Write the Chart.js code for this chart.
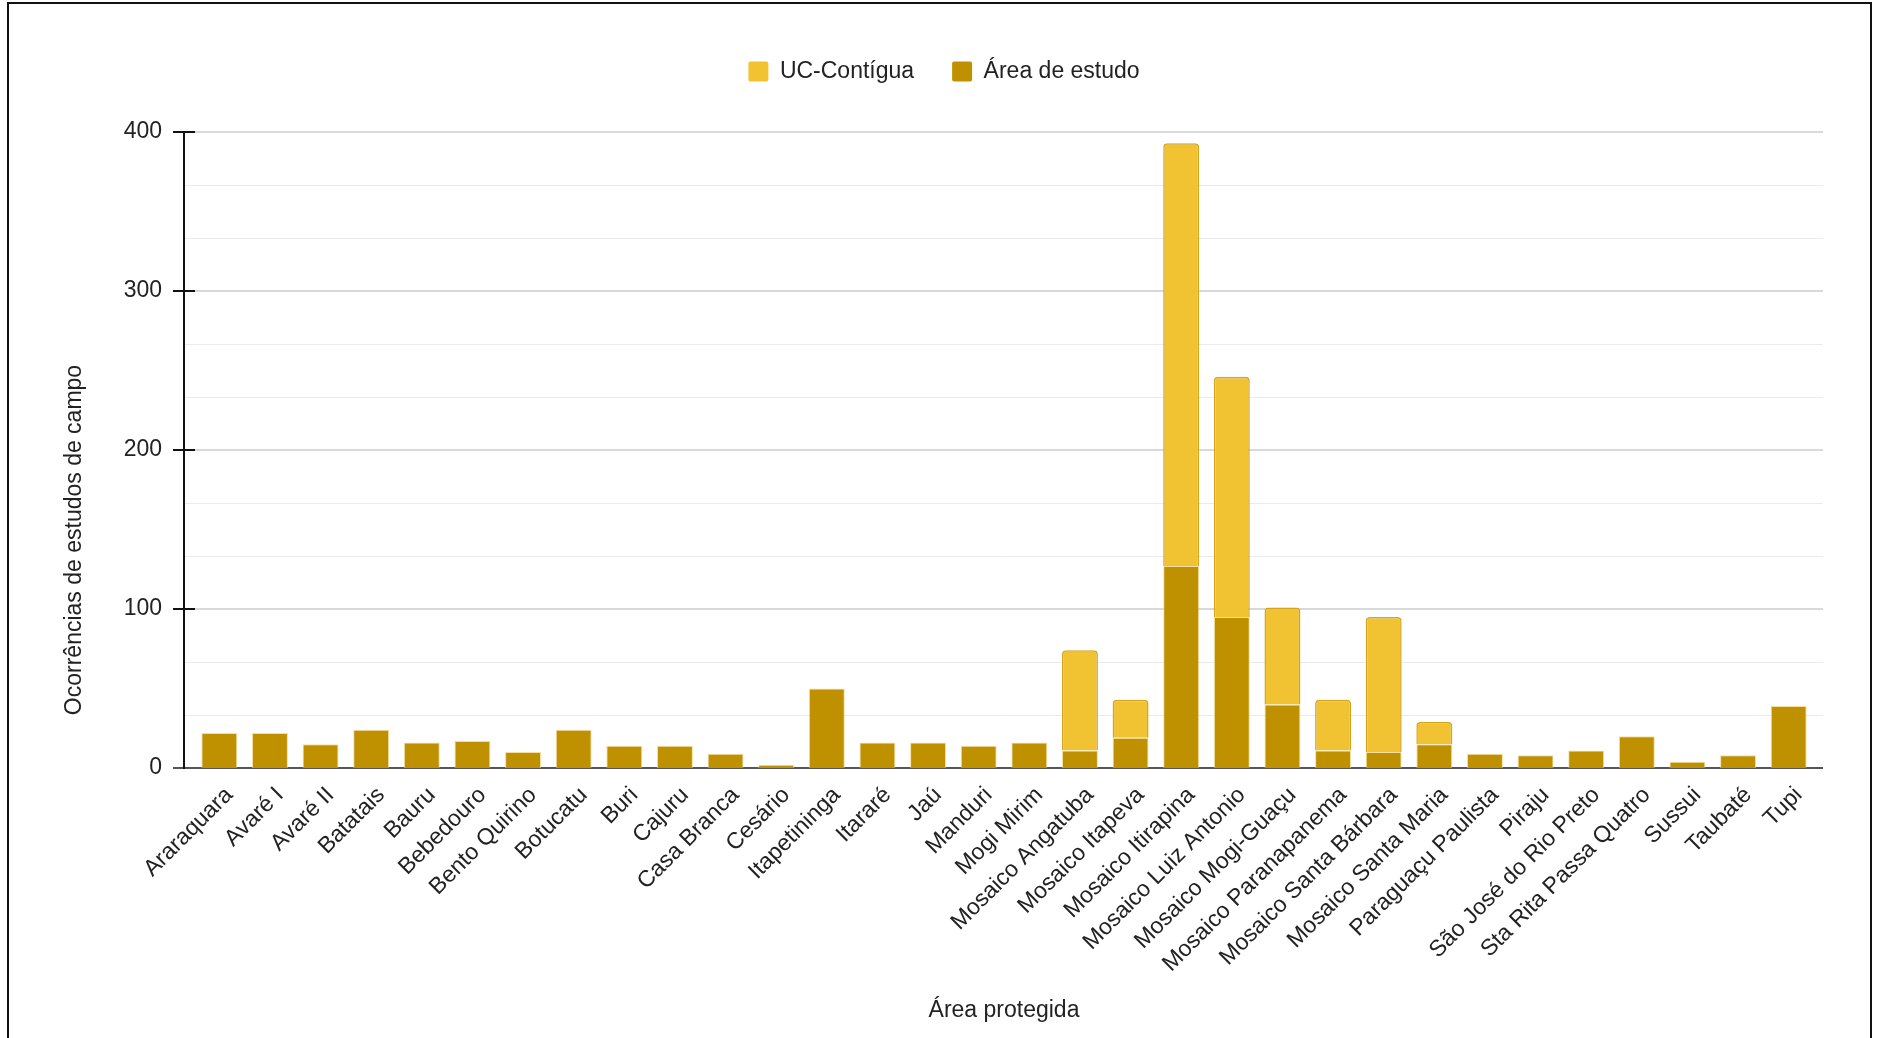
<!DOCTYPE html>
<html lang="pt-BR">
<head>
<meta charset="utf-8">
<title>Ocorrências de estudos de campo por área protegida</title>
<script src="https://cdn.jsdelivr.net/npm/chart.js@4.4.1/dist/chart.umd.min.js"></script>
<style>
  html, body { margin: 0; padding: 0; background: #fff; }
  #wrap { position: relative; width: 1877px; height: 1038px; overflow: hidden; }
  #frame { position: absolute; left: 7px; top: 2px; width: 1861px; height: 1100px; border: 2px solid #111; pointer-events: none; }
</style>
</head>
<body>
<div id="wrap">
  <canvas id="grafico"></canvas>
  <div id="frame"></div>
</div>
<script>
const areas = [
  "Araraquara", "Avaré I", "Avaré II", "Batatais", "Bauru", "Bebedouro", "Bento Quirino",
  "Botucatu", "Buri", "Cajuru", "Casa Branca", "Cesário", "Itapetininga", "Itararé", "Jaú",
  "Manduri", "Mogi Mirim", "Mosaico Angatuba", "Mosaico Itapeva", "Mosaico Itirapina",
  "Mosaico Luiz Antonio", "Mosaico Mogi-Guaçu", "Mosaico Paranapanema", "Mosaico Santa Bárbara",
  "Mosaico Santa Maria", "Paraguaçu Paulista", "Piraju", "São José do Rio Preto",
  "Sta Rita Passa Quatro", "Sussui", "Taubaté", "Tupi"
];
const areaEstudo = [22, 22, 15, 24, 16, 17, 10, 24, 14, 14, 9, 2, 50, 16, 16, 14, 16,
                    11, 19, 127, 95, 40, 11, 10, 15, 9, 8, 11, 20, 4, 8, 39];
const ucContigua = [0, 0, 0, 0, 0, 0, 0, 0, 0, 0, 0, 0, 0, 0, 0, 0, 0,
                    63, 24, 266, 151, 61, 32, 85, 14, 0, 0, 0, 0, 0, 0, 0];
const yTicks = [0, 100, 200, 300, 400];

const fonte = { family: "'Liberation Sans', Arial, sans-serif", size: 23 };
const corTexto = "#222";

Chart.defaults.font.family = fonte.family;

// grade (principal + 2 secundárias por intervalo), eixo vertical e título do eixo y
const eixos = {
  id: "eixos",
  beforeDatasetsDraw(chart) {
    const { ctx, chartArea, scales: { y } } = chart;
    const xEixo = chartArea.left - 10;
    const xFim = chartArea.right + 9;
    const linha = (x1, y1, x2, y2, cor, largura) => {
      ctx.beginPath();
      ctx.strokeStyle = cor;
      ctx.lineWidth = largura;
      ctx.moveTo(x1, y1);
      ctx.lineTo(x2, y2);
      ctx.stroke();
    };
    ctx.save();
    for (let i = 0; i < yTicks.length - 1; i++) {
      for (let k = 1; k < 3; k++) {
        const v = yTicks[i] + (yTicks[i + 1] - yTicks[i]) * k / 3;
        const py = Math.round(y.getPixelForValue(v)) + 0.5;
        linha(xEixo, py, xFim, py, "#ebebeb", 1);
      }
    }
    yTicks.forEach(v => {
      const py = Math.round(y.getPixelForValue(v));
      if (v > 0) {
        linha(xEixo, py, xFim, py, "#cccccc", 1.5);
        linha(xEixo - 11, py, xEixo + 11, py, "#111", 2);
      } else {
        linha(xEixo - 11, py, xFim, py, "#555", 2);
      }
    });
    linha(xEixo, y.getPixelForValue(yTicks[yTicks.length - 1]) - 1, xEixo, y.getPixelForValue(0) + 1, "#111", 2);

    ctx.translate(75, 540);
    ctx.rotate(-Math.PI / 2);
    ctx.fillStyle = corTexto;
    ctx.font = `${fonte.size}px ${fonte.family}`;
    ctx.textAlign = "center";
    ctx.textBaseline = "middle";
    ctx.fillText("Ocorrências de estudos de campo", 0, 0);
    ctx.restore();
  }
};

// espaço extra entre a legenda e a área do gráfico
const legendaEspaco = {
  id: "legendaEspaco",
  beforeInit(chart) {
    const fitOriginal = chart.legend.fit;
    chart.legend.fit = function () {
      fitOriginal.call(this);
      this.height += 39;
    };
  }
};

const ctx = document.getElementById("grafico").getContext("2d");

new Chart(ctx, {
  type: "bar",
  data: {
    labels: areas,
    datasets: [
      {
        label: "Área de estudo",
        data: areaEstudo,
        backgroundColor: "#bf9000",
        borderColor: "rgba(241, 208, 120, 0.7)",
        borderWidth: 1,
        borderSkipped: "bottom",
        categoryPercentage: 1,
        barPercentage: 0.71
      },
      {
        label: "UC-Contígua",
        data: ucContigua,
        backgroundColor: "#f1c232",
        borderColor: "#d4a51c",
        borderWidth: c => (c.raw ? 1.5 : 0),
        borderRadius: { topLeft: 4, topRight: 4, bottomLeft: 0, bottomRight: 0 },
        borderSkipped: "bottom",
        categoryPercentage: 1,
        barPercentage: 0.71
      }
    ]
  },
  options: {
    responsive: true,
    maintainAspectRatio: false,
    animation: false,
    layout: { padding: { top: 22, left: 74, right: 63, bottom: 0 } },
    plugins: {
      tooltip: { enabled: false },
      legend: {
        position: "top",
        reverse: true,
        labels: {
          boxWidth: 20,
          boxHeight: 20,
          padding: 38,
          color: corTexto,
          font: fonte,
          useBorderRadius: true,
          borderRadius: 2,
          generateLabels: chart =>
            Chart.defaults.plugins.legend.labels.generateLabels(chart)
              .map(l => ({ ...l, lineWidth: 0, strokeStyle: "transparent" }))
        }
      }
    },
    scales: {
      x: {
        stacked: true,
        grid: { display: false, drawTicks: false },
        border: { display: false },
        ticks: {
          autoSkip: false,
          maxRotation: 45,
          minRotation: 45,
          padding: 8,
          labelOffset: 10,
          color: corTexto,
          font: { ...fonte, lineHeight: 1.9 }
        },
        title: {
          display: true,
          text: "Área protegida",
          color: corTexto,
          font: fonte,
          padding: { top: 0, bottom: 14 }
        },
        afterFit(scale) { scale.height = 270; }
      },
      y: {
        stacked: true,
        min: 0,
        max: 400,
        grid: { display: false, drawTicks: false },
        border: { display: false },
        ticks: { stepSize: 100, padding: 32, color: corTexto, font: fonte },
        afterFit(scale) { scale.width = 120; }
      }
    }
  },
  plugins: [eixos, legendaEspaco]
});
</script>
</body>
</html>
